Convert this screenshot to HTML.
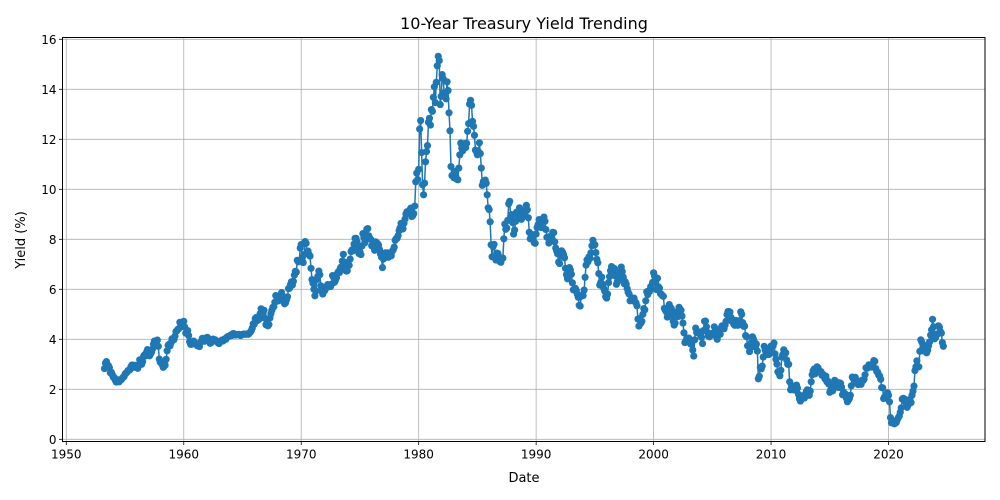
<!DOCTYPE html>
<html><head><meta charset="utf-8"><style>
body{margin:0;background:#fff;}
svg{display:block;font-family:"DejaVu Sans","Liberation Sans",sans-serif;}
</style></head><body>
<svg id="chart" width="1000" height="500" xmlns="http://www.w3.org/2000/svg">
<text x="524" y="29" font-size="16" text-anchor="middle">10-Year Treasury Yield Trending</text>
<text x="524" y="482" font-size="13" text-anchor="middle">Date</text>
<text x="25" y="240" font-size="13" text-anchor="middle" transform="rotate(-90 25 240)">Yield (%)</text>
<g id="grid"></g><g id="series"></g><g id="axes"></g>
</svg>
<script>
const startYear = 1953.25;
const stepYears = 1/12;
const yields = [
2.83,3.05,3.11,2.93,2.95,2.87,2.66,2.68,2.59,
2.48,2.47,2.37,2.29,2.37,2.38,2.30,2.36,2.38,2.43,2.48,2.51,
2.61,2.65,2.68,2.75,2.76,2.78,2.90,2.97,2.97,2.88,2.89,2.96,
2.90,2.84,2.96,3.18,3.07,3.00,3.11,3.33,3.38,3.34,3.49,3.59,
3.46,3.34,3.41,3.48,3.60,3.80,3.93,3.93,3.92,3.97,3.72,3.21,
3.09,3.05,2.98,2.88,2.92,2.97,3.20,3.54,3.76,3.80,3.74,3.86,
4.02,3.96,3.99,4.12,4.31,4.34,4.40,4.43,4.68,4.53,4.53,4.69,
4.72,4.49,4.25,4.28,4.35,4.15,3.90,3.80,3.80,3.89,3.93,3.84,
3.84,3.78,3.74,3.78,3.71,3.88,3.92,4.04,3.98,3.92,3.94,4.06,
4.08,4.04,3.93,3.84,3.87,3.91,4.01,3.98,3.98,3.93,3.92,3.86,
3.83,3.92,3.93,3.97,3.93,3.99,4.02,4.00,4.08,4.11,4.12,4.13,
4.17,4.15,4.22,4.23,4.20,4.17,4.19,4.19,4.20,4.19,4.15,4.18,
4.19,4.21,4.21,4.20,4.21,4.21,4.20,4.25,4.29,4.35,4.45,4.62,
4.61,4.83,4.87,4.75,4.78,4.81,5.02,5.22,5.18,5.01,5.16,4.84,
4.58,4.63,4.54,4.59,4.85,5.02,5.16,5.28,5.30,5.48,5.75,5.70,
5.53,5.56,5.74,5.64,5.87,5.72,5.50,5.42,5.46,5.58,5.70,6.03,
6.04,6.19,6.30,6.17,6.32,6.57,6.72,6.69,7.16,7.10,7.14,7.65,
7.79,7.24,7.07,7.39,7.91,7.84,7.46,7.53,7.39,7.33,6.84,6.39,
6.24,6.00,5.74,5.93,6.39,6.52,6.73,6.58,6.14,5.93,5.81,5.93,
5.95,6.08,6.07,6.19,6.13,6.11,6.11,6.21,6.55,6.48,6.28,6.36,
6.46,6.64,6.71,6.67,6.85,6.90,7.13,7.40,7.09,6.79,6.73,6.74,
6.99,6.96,7.21,7.51,7.58,7.54,7.81,8.04,8.04,7.90,7.68,7.43,
7.50,7.39,7.73,8.23,8.06,7.86,8.06,8.40,8.43,8.14,8.05,8.00,
7.74,7.79,7.73,7.56,7.90,7.86,7.83,7.77,7.59,7.41,7.29,6.87,
7.21,7.39,7.46,7.37,7.46,7.28,7.33,7.40,7.34,7.52,7.58,7.69,
7.96,8.03,8.04,8.15,8.35,8.46,8.64,8.41,8.42,8.64,8.81,9.01,
9.10,9.10,9.12,9.18,9.25,8.91,8.95,9.03,9.33,10.30,10.65,10.39,
10.80,12.41,12.75,11.47,10.18,9.78,10.25,11.10,11.51,11.75,12.68,12.84,
12.57,13.19,13.12,13.68,14.10,13.47,14.28,14.94,15.32,15.15,13.39,13.72,
14.59,14.43,13.86,13.87,13.62,14.30,13.95,13.06,12.34,10.91,10.55,10.54,
10.46,10.72,10.51,10.40,10.38,10.85,11.38,11.85,11.65,11.54,11.69,11.83,
11.67,11.84,12.32,12.63,13.41,13.56,13.36,12.72,12.52,12.16,11.57,11.50,
11.38,11.51,11.86,11.43,10.85,10.16,10.31,10.33,10.37,10.24,9.78,9.26,
9.19,8.70,7.78,7.30,7.71,7.80,7.30,7.17,7.45,7.43,7.25,7.11,
7.08,7.25,7.25,8.02,8.61,8.40,8.45,8.76,9.42,9.52,8.86,8.99,
8.67,8.21,8.37,8.72,9.09,8.92,9.06,9.26,8.98,8.80,8.96,9.11,
9.09,9.17,9.36,9.18,8.86,8.28,8.02,8.11,8.19,8.01,7.87,7.84,
8.21,8.47,8.59,8.79,8.76,8.48,8.47,8.75,8.89,8.72,8.39,8.08,
8.09,7.85,8.11,8.04,8.07,8.28,8.27,7.90,7.65,7.53,7.42,7.09,
7.03,7.34,7.54,7.48,7.39,7.26,6.84,6.59,6.42,6.59,6.87,6.77,
6.60,6.26,5.98,5.97,6.04,5.96,5.81,5.68,5.36,5.33,5.72,5.77,
5.75,5.97,6.48,6.97,7.18,7.10,7.30,7.24,7.46,7.74,7.96,7.81,
7.78,7.47,7.20,7.06,6.63,6.17,6.28,6.49,6.20,6.04,5.93,5.71,
5.65,5.81,6.27,6.51,6.74,6.91,6.87,6.64,6.83,6.53,6.20,6.30,
6.58,6.42,6.69,6.89,6.71,6.49,6.22,6.30,6.21,6.03,5.88,5.81,
5.54,5.57,5.65,5.64,5.65,5.50,5.46,5.34,4.81,4.53,4.83,4.65,
4.72,5.00,5.23,5.18,5.54,5.90,5.79,5.94,5.92,6.11,6.03,6.28,
6.66,6.52,6.26,5.99,6.44,6.10,6.05,5.83,5.80,5.74,5.72,5.24,
5.16,5.10,4.89,5.14,5.39,5.28,5.24,4.97,4.73,4.57,4.65,5.09,
5.04,4.91,5.28,5.21,5.16,4.93,4.65,4.26,3.87,3.94,4.05,4.03,
4.05,3.90,3.81,3.96,3.57,3.33,3.98,4.45,4.27,4.29,4.30,4.27,
4.15,4.08,3.83,4.35,4.72,4.73,4.50,4.28,4.13,4.10,4.19,4.23,
4.22,4.17,4.50,4.34,4.14,4.00,4.18,4.26,4.20,4.46,4.54,4.47,
4.42,4.57,4.72,4.99,5.11,5.11,5.09,4.88,4.72,4.73,4.60,4.56,
4.76,4.72,4.56,4.69,4.75,5.10,5.00,4.67,4.52,4.53,4.15,4.10,
3.74,3.74,3.51,3.68,3.88,4.10,4.01,3.89,3.69,3.81,3.53,2.42,
2.52,2.87,2.82,2.93,3.29,3.72,3.56,3.59,3.40,3.39,3.40,3.59,
3.73,3.69,3.73,3.85,3.42,3.20,3.01,2.70,2.65,2.54,2.76,3.29,
3.39,3.58,3.41,3.46,3.17,3.00,3.00,2.30,1.98,2.15,2.01,1.98,
1.97,1.97,2.17,2.05,1.80,1.62,1.53,1.68,1.72,1.75,1.65,1.72,
1.91,1.98,1.96,1.76,1.93,2.30,2.58,2.74,2.81,2.62,2.72,2.90,
2.86,2.71,2.72,2.71,2.56,2.60,2.54,2.42,2.53,2.30,2.33,2.21,
1.88,1.98,2.04,1.94,2.20,2.36,2.32,2.17,2.17,2.07,2.26,2.24,
2.09,1.78,1.89,1.81,1.81,1.64,1.50,1.56,1.63,1.76,2.14,2.49,
2.43,2.42,2.48,2.30,2.30,2.19,2.32,2.21,2.20,2.36,2.35,2.40,
2.58,2.86,2.84,2.87,2.98,2.91,2.89,2.89,3.00,3.15,3.12,2.83,
2.71,2.68,2.57,2.53,2.40,2.07,2.06,1.63,1.70,1.71,1.81,1.86,
1.76,1.50,0.87,0.66,0.67,0.73,0.62,0.65,0.68,0.79,0.87,0.93,
1.08,1.26,1.61,1.64,1.62,1.52,1.32,1.28,1.37,1.58,1.56,1.47,
1.76,1.93,2.13,2.75,2.90,3.14,2.90,2.90,3.52,3.98,3.89,3.62,
3.53,3.75,3.66,3.46,3.57,3.75,3.90,4.17,4.38,4.80,4.50,4.02,
4.06,4.21,4.21,4.54,4.48,4.31,4.25,3.87,3.72
];
const xTicks = [1950,1960,1970,1980,1990,2000,2010,2020];
const yTicks = [0,2,4,6,8,10,12,14,16];

const NS='http://www.w3.org/2000/svg';
const L=62.5,R=985,T=37.5,B=441.5;
const xs=y=>66.3+(y-1950)*11.746;
const ys=v=>439.3-v*25;
function mk(tag,attrs,parent){const e=document.createElementNS(NS,tag);for(const k in attrs)e.setAttribute(k,attrs[k]);parent.appendChild(e);return e;}
const grid=document.getElementById('grid'),axes=document.getElementById('axes'),ser=document.getElementById('series');
xTicks.forEach(t=>{
  const x=xs(t);
  const g=mk('line',{x1:x,x2:x,y1:T,y2:B,stroke:'#b0b0b0','stroke-width':0.8},grid);
  
  
  mk('line',{x1:x,x2:x,y1:B,y2:B+3.5,stroke:'#000','stroke-width':0.8},axes);
  const tx=mk('text',{x:x,y:B+17,'font-size':12,'text-anchor':'middle'},axes);
  tx.textContent=t;
  
  
});
yTicks.forEach(t=>{
  const y=ys(t);
  const g=mk('line',{x1:L,x2:R,y1:y,y2:y,stroke:'#b0b0b0','stroke-width':0.8},grid);
  
  
  mk('line',{x1:L-3.5,x2:L,y1:y,y2:y,stroke:'#000','stroke-width':0.8},axes);
  const tx=mk('text',{x:L-6,y:y+4.5,'font-size':12,'text-anchor':'end'},axes);
  tx.textContent=t;
  
  
});
const frame=mk('rect',{x:L,y:T,width:R-L,height:B-T,fill:'none',stroke:'#000','stroke-width':1},axes);


const pts=yields.map((v,i)=>[xs(startYear+i*stepYears),ys(v)]);
const line=mk('polyline',{points:pts.map(p=>p.join(',')).join(' '),fill:'none',stroke:'#1f77b4','stroke-width':1.5},ser);


pts.forEach(p=>{
  const c=mk('circle',{cx:p[0],cy:p[1],r:3.6,fill:'#1f77b4'},ser);
  
  
});
</script>
</body></html>
